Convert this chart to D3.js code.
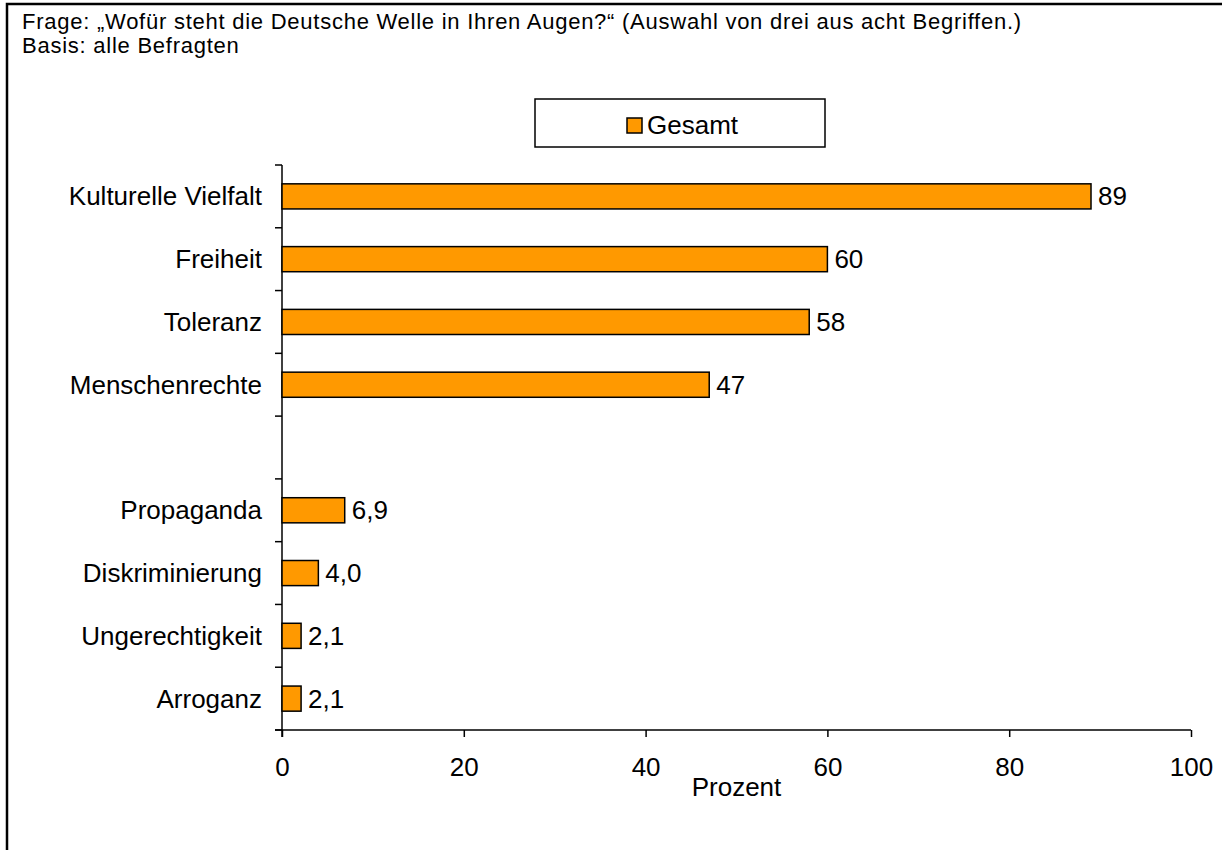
<!DOCTYPE html>
<html>
<head>
<meta charset="utf-8">
<script src="https://cdn.jsdelivr.net/npm/d3@7/dist/d3.min.js"></script>
<style>
  html, body { margin: 0; padding: 0; background: #fff; }
  svg { display: block; font-family: "Liberation Sans", Arial, sans-serif; }
</style>
</head>
<body>
<svg id="chart" width="1222" height="850"></svg>
<script>
// Survey answers (percent of all respondents); "" marks the empty spacer row
const categories = ["Kulturelle Vielfalt", "Freiheit", "Toleranz", "Menschenrechte", "", "Propaganda", "Diskriminierung", "Ungerechtigkeit", "Arroganz"];
const values = [89, 60, 58, 47, null, 6.9, 4.0, 2.1, 2.1];
const valueLabels = ["89", "60", "58", "47", "", "6,9", "4,0", "2,1", "2,1"];
const xTicks = [0, 20, 40, 60, 80, 100];
const titleLines = ["Frage: „Wofür steht die Deutsche Welle in Ihren Augen?“ (Auswahl von drei aus acht Begriffen.)", "Basis: alle Befragten"];
const seriesName = "Gesamt";
const axisTitle = "Prozent";

const svg = d3.select("#chart");
const W = 1222, H = 850;
const plot = { left: 282, right: 1191, top: 165, bottom: 730 };
const barColor = "#FF9900";
const labelSize = 26;

// outer frame
svg.append("rect")
  .attr("x", 7).attr("y", 4)
  .attr("width", W + 20).attr("height", H + 20)
  .attr("fill", "#fff").attr("stroke", "#000").attr("stroke-width", 2.5);

// header text
svg.append("g").selectAll("text").data(titleLines).join("text")
  .attr("x", 22).attr("y", (d, i) => 29 + i * 24)
  .attr("font-size", 22).attr("letter-spacing", 0.75).attr("fill", "#000")
  .text(d => d);

const rowKeys = categories.map((c, i) => i);
const y = d3.scaleBand().domain(rowKeys).range([plot.top, plot.bottom]).padding(0);
const x = d3.scaleLinear().domain([0, 100]).range([plot.left, plot.right]);
const barH = y.bandwidth() * 0.4;

// x axis
const xAxis = svg.append("g")
  .attr("transform", `translate(0,${plot.bottom})`)
  .call(d3.axisBottom(x).tickValues(xTicks).tickSize(7).tickPadding(21).tickFormat(d3.format("d")));
xAxis.select(".domain").remove();
xAxis.append("line")
  .attr("x1", plot.left - 7).attr("x2", plot.right)
  .attr("stroke", "#000").attr("stroke-width", 1.5);
xAxis.selectAll(".tick line").attr("stroke", "#000").attr("stroke-width", 1.5);
xAxis.selectAll(".tick text")
  .attr("font-size", labelSize).attr("fill", "#000")
  .attr("font-family", "Liberation Sans, Arial, sans-serif");

svg.append("text")
  .attr("x", (x(0) + x(100)) / 2).attr("y", 796)
  .attr("text-anchor", "middle").attr("font-size", labelSize).attr("fill", "#000")
  .text(axisTitle);

// y axis with ticks at row boundaries
const yAxis = svg.append("g");
yAxis.append("line")
  .attr("x1", plot.left).attr("x2", plot.left)
  .attr("y1", plot.top).attr("y2", plot.bottom + 7)
  .attr("stroke", "#000").attr("stroke-width", 1.5);
const boundaries = rowKeys.map(k => y(k)).concat([y(rowKeys[rowKeys.length - 1]) + y.step()]);
yAxis.selectAll("line.tick").data(boundaries).join("line")
  .attr("class", "tick")
  .attr("x1", plot.left - 7).attr("x2", plot.left)
  .attr("y1", d => d).attr("y2", d => d)
  .attr("stroke", "#000").attr("stroke-width", 1.5);

// category labels
svg.append("g").selectAll("text").data(rowKeys).join("text")
  .attr("x", plot.left - 20)
  .attr("y", k => y(k) + y.bandwidth() / 2)
  .attr("dy", "0.35em")
  .attr("text-anchor", "end").attr("font-size", labelSize).attr("fill", "#000")
  .text(k => categories[k]);

// bars
const rows = rowKeys.filter(k => values[k] != null);
svg.append("g").selectAll("rect").data(rows).join("rect")
  .attr("x", x(0))
  .attr("y", k => y(k) + (y.bandwidth() - barH) / 2)
  .attr("width", k => x(values[k]) - x(0))
  .attr("height", barH)
  .attr("fill", barColor).attr("stroke", "#000").attr("stroke-width", 1.5);

// value labels
svg.append("g").selectAll("text").data(rows).join("text")
  .attr("x", k => x(values[k]) + 7)
  .attr("y", k => y(k) + y.bandwidth() / 2)
  .attr("dy", "0.35em")
  .attr("font-size", labelSize).attr("fill", "#000")
  .text(k => valueLabels[k]);

// legend
const legend = svg.append("g");
legend.append("rect")
  .attr("x", 535).attr("y", 99).attr("width", 290).attr("height", 48)
  .attr("fill", "#fff").attr("stroke", "#000").attr("stroke-width", 1.5);
legend.append("rect")
  .attr("x", 627).attr("y", 118).attr("width", 15).attr("height", 15)
  .attr("fill", barColor).attr("stroke", "#000").attr("stroke-width", 1.5);
legend.append("text")
  .attr("x", 647).attr("y", 134)
  .attr("font-size", labelSize).attr("fill", "#000")
  .text(seriesName);
</script>
</body>
</html>
